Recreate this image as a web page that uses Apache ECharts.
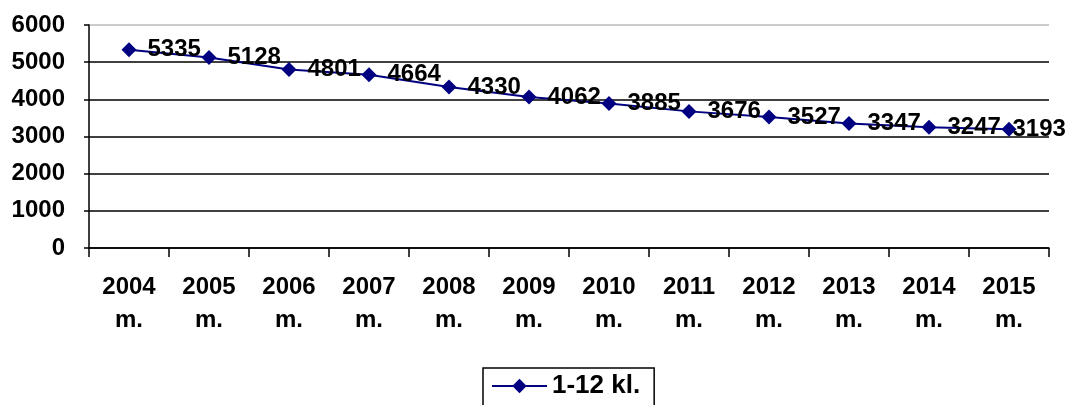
<!DOCTYPE html>
<html>
<head>
<meta charset="utf-8">
<script src="https://cdn.jsdelivr.net/npm/echarts@6/dist/echarts.min.js"></script>
<style>
  html, body { margin: 0; padding: 0; background: #fff; }
  #chart { width: 1069px; height: 405px; }
</style>
</head>
<body>
<div id="chart"></div>
<script>
var years = ['2004', '2005', '2006', '2007', '2008', '2009', '2010', '2011', '2012', '2013', '2014', '2015'];
var pupils = [5335, 5128, 4801, 4664, 4330, 4062, 3885, 3676, 3527, 3347, 3247, 3193];
var seriesName = '1-12 kl.';

var font = 'Liberation Sans, Arial, sans-serif';

var chart = echarts.init(document.getElementById('chart'));

var option = {
    animation: false,
    grid: {
        left: 89,
        right: 20,
        top: 25,
        bottom: 157
    },
    legend: {
        left: 483,
        top: 368,
        padding: [5, 14, 8, 8],
        borderColor: '#000',
        borderWidth: 1.5,
        itemWidth: 55,
        itemHeight: 18,
        textStyle: {
            fontFamily: font,
            fontWeight: 'bold',
            fontSize: 26,
            color: '#000'
        },
        data: [seriesName]
    },
    xAxis: {
        type: 'category',
        boundaryGap: true,
        data: years,
        axisLine: { lineStyle: { color: '#000', width: 1.5 } },
        axisTick: { show: true, length: 9, interval: 0, lineStyle: { color: '#000', width: 1.5 } },
        axisLabel: {
            interval: 0,
            margin: 23,
            lineHeight: 33,
            fontFamily: font,
            fontWeight: 'bold',
            fontSize: 24,
            color: '#000',
            formatter: function (v) { return v + '\nm.'; }
        }
    },
    yAxis: {
        type: 'value',
        min: 0,
        max: 6000,
        interval: 1000,
        axisLine: { show: true, lineStyle: { color: '#000', width: 1.5 } },
        axisTick: { show: true, length: 5, lineStyle: { color: '#000', width: 1.5 } },
        axisLabel: {
            margin: 24,
            fontFamily: font,
            fontWeight: 'bold',
            fontSize: 24,
            color: '#000',
            formatter: function (v) { return String(v); }
        },
        splitLine: {
            show: true,
            lineStyle: {
                color: ['#000', '#000', '#000', '#000', '#000', '#000', '#bbb'],
                width: 1.5
            }
        }
    },
    series: [
        {
            name: seriesName,
            type: 'line',
            data: pupils.map(function (v, i) {
                var item = { value: v };
                if (i === pupils.length - 1) {
                    item.label = { distance: -4 };
                }
                return item;
            }),
            symbol: 'diamond',
            symbolSize: 15,
            itemStyle: { color: '#000080' },
            lineStyle: { color: '#000080', width: 2 },
            label: {
                show: true,
                position: 'right',
                distance: 11,
                fontFamily: font,
                fontWeight: 'bold',
                fontSize: 24,
                color: '#000'
            }
        }
    ]
};

chart.setOption(option);
</script>
</body>
</html>
